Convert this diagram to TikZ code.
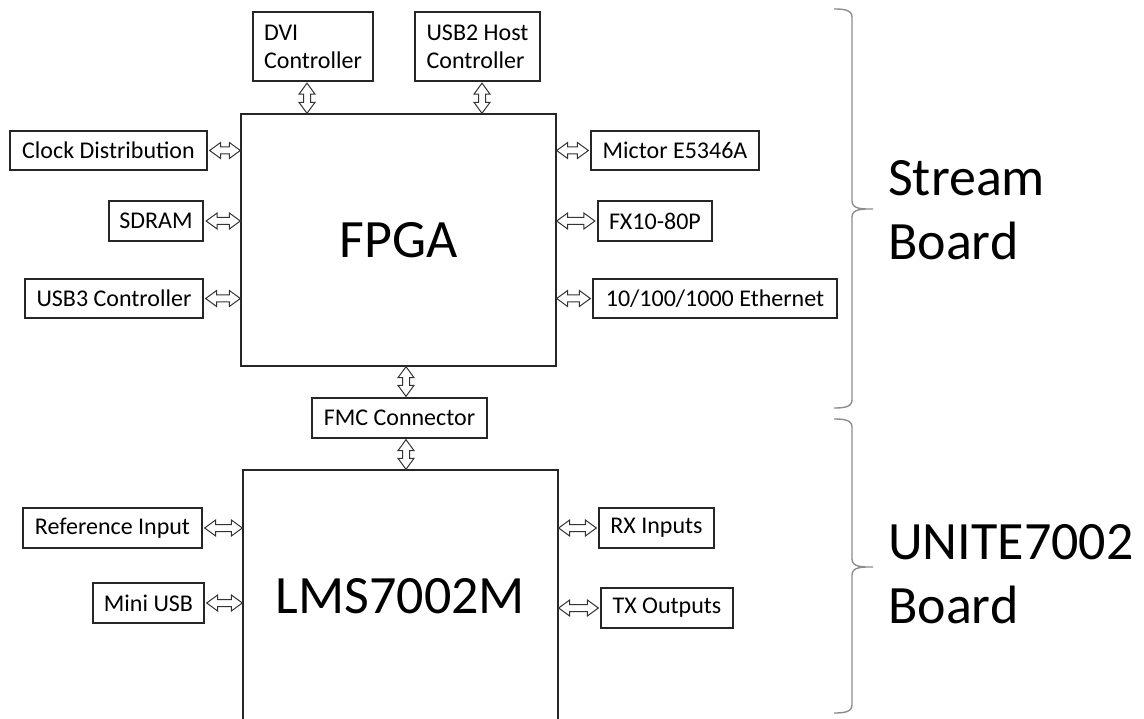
\documentclass[tikz,border=0pt]{standalone}
\usepackage{fontspec}
\setmainfont{Carlito}
\usetikzlibrary{calc}
\tikzset{
  blk/.style={draw=black!85, line width=1.3pt, inner sep=0pt, font=\fontsize{24}{28}\selectfont, text=black},
  bigblk/.style={draw=black!85, line width=1.3pt, inner sep=0pt, font=\fontsize{54}{64}\selectfont, text=black},
  dbl/.style={draw=black!80, fill=white, line width=1pt, line join=miter},
  brc/.style={draw=black!45, line width=1.4pt},
  lbl/.style={font=\fontsize{54}{64}\selectfont, align=left, inner sep=0pt, anchor=north west, text=black}
}
% horizontal hollow double arrow: #1 left end, #2 right end (y of #1 used)
\newcommand\harr[2]{\path[dbl] let \p1=(#1), \p2=(#2) in
  (\x1,\y1) -- (\x1+11pt,\y1+8pt) -- (\x1+11pt,\y1+3.5pt) -- (\x2-11pt,\y1+3.5pt) -- (\x2-11pt,\y1+8pt) --
  (\x2,\y1) -- (\x2-11pt,\y1-8pt) -- (\x2-11pt,\y1-3.5pt) -- (\x1+11pt,\y1-3.5pt) -- (\x1+11pt,\y1-8pt) -- cycle;}
% vertical hollow double arrow: #1 upper end, #2 lower end (x of #1 used)
\newcommand\varr[2]{\path[dbl] let \p1=(#1), \p2=(#2) in
  (\x1,\y1) -- (\x1+8pt,\y1-11pt) -- (\x1+3.5pt,\y1-11pt) -- (\x1+3.5pt,\y2+11pt) -- (\x1+8pt,\y2+11pt) --
  (\x1,\y2) -- (\x1-8pt,\y2+11pt) -- (\x1-3.5pt,\y2+11pt) -- (\x1-3.5pt,\y1-11pt) -- (\x1-8pt,\y1-11pt) -- cycle;}
\begin{document}
\begin{tikzpicture}[x=1pt,y=-1pt]
\useasboundingbox (0,0) rectangle (1144,719);
% main blocks
\node[bigblk, minimum width=315pt, minimum height=252pt] (fpga) at (398.5,240) {FPGA};
\node[bigblk, minimum width=315pt, minimum height=253pt] (lms) at (400.5,596.5) {LMS7002M};
% top boxes
\node[blk, align=left, minimum width=120pt, minimum height=69pt] (dvi) at (313,46.5) {DVI\\Controller};
\node[blk, align=left, minimum width=125pt, minimum height=69pt] (usb2) at (477.5,46.5) {USB2 Host\\Controller};
% left of FPGA
\node[blk, minimum width=197pt, minimum height=39pt] (clock) at (108.5,150.5) {Clock Distribution};
\node[blk, minimum width=94pt, minimum height=40pt] (sdram) at (156,221) {SDRAM};
\node[blk, minimum width=178pt, minimum height=39pt] (usb3) at (114,298.5) {USB3 Controller};
% right of FPGA
\node[blk, minimum width=168pt, minimum height=39pt] (mictor) at (675,150.5) {Mictor E5346A};
\node[blk, minimum width=114pt, minimum height=40pt] (fx) at (655,221) {FX10-80P};
\node[blk, minimum width=244pt, minimum height=39pt] (eth) at (715,298.5) {10/100/1000 Ethernet};
% FMC
\node[blk, minimum width=175pt, minimum height=40pt] (fmc) at (399.5,418) {FMC Connector};
% LMS sides
\node[blk, minimum width=179pt, minimum height=40pt] (refin) at (112.5,528) {Reference Input};
\node[blk, minimum width=111pt, minimum height=40pt] (miniusb) at (148.5,603) {Mini USB};
\node[blk, minimum width=115pt, minimum height=40pt] (rx) at (656.5,528) {RX Inputs};
\node[blk, minimum width=132pt, minimum height=40pt] (tx) at (667,608) {TX Outputs};
% arrows
\varr{[xshift=-6pt,yshift=-1.5pt]dvi.south}{fpga.north}
\varr{[xshift=4.5pt,yshift=-1.5pt]usb2.south}{fpga.north}
\harr{[xshift=2pt]clock.east}{fpga.west}
\harr{[xshift=2.5pt]sdram.east}{fpga.west}
\harr{[xshift=2pt]usb3.east}{fpga.west}
\harr{fpga.east |- mictor.west}{[xshift=-2pt]mictor.west}
\harr{fpga.east |- fx.west}{[xshift=-2.5pt]fx.west}
\harr{fpga.east |- eth.west}{[xshift=-2pt]eth.west}
\varr{[xshift=6.5pt]fmc.north |- fpga.south}{[yshift=1pt]fmc.north}
\varr{[xshift=6.5pt,yshift=-1pt]fmc.south}{lms.north}
\harr{[xshift=2pt]refin.east}{lms.west}
\harr{[xshift=2pt]miniusb.east}{lms.west}
\harr{lms.east |- rx.west}{[xshift=-2pt]rx.west}
\harr{lms.east |- tx.west}{[xshift=-2pt]tx.west}
% braces
\coordinate (sb1) at (834,9);
\coordinate (sbt) at (873,209);
\coordinate (sb2) at (834,408);
\coordinate (ub1) at (834,419);
\coordinate (ubt) at (873,567);
\coordinate (ub2) at (834,713);
\draw[brc] (sb1) to[out=0,in=90] (852,17) -- (852,201) to[out=-90,in=180] (sbt)
  to[out=180,in=90] (852,217) -- (852,400) to[out=-90,in=0] (sb2);
\draw[brc] (ub1) to[out=0,in=90] (852,427) -- (852,559) to[out=-90,in=180] (ubt)
  to[out=180,in=90] (852,575) -- (852,705) to[out=-90,in=0] (ub2);
% board labels
\node[lbl] (stream) at (888,160) {Stream\\Board};
\node[lbl] (unite) at (888,524) {UNITE7002\\Board};
\end{tikzpicture}
\end{document}
